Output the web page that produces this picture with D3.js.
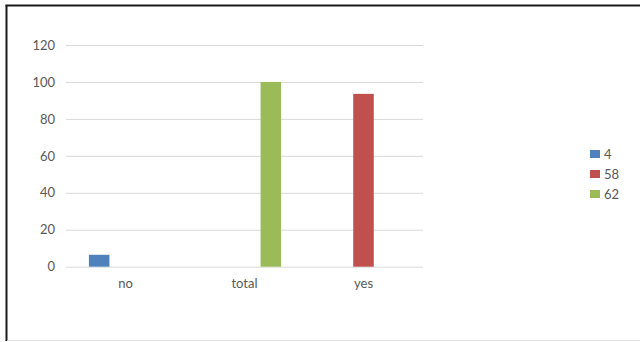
<!DOCTYPE html>
<html>
<head>
<meta charset="utf-8">
<script src="https://cdn.jsdelivr.net/npm/d3@7"></script>
<style>
  html, body { margin: 0; padding: 0; background: #fff; }
  svg { display: block; }
</style>
</head>
<body>
<svg id="chart" width="640" height="342"></svg>
<script>
// Categories along the x axis
const categories = ["no", "total", "yes"];
// Series names (as shown in the legend)
const seriesNames = ["4", "58", "62"];
// Values per series, aligned with categories (null = no bar)
const series4  = [6.45, null, null];
const series58 = [null, null, 93.55];
const series62 = [null, 100, null];
const seriesValues = [series4, series58, series62];
const seriesColors = ["#4f81bd", "#c0504d", "#9bbb59"];
// Y axis ticks
const yTicks = [0, 20, 40, 60, 80, 100, 120];

const svg = d3.select("#chart");
const font = "Lato, 'Open Sans', sans-serif";
const textColor = "#595959";

// Outer frame: dark top and left edges, faint bottom edge
svg.append("line")
  .attr("x1", 5.5).attr("x2", 640).attr("y1", 5.5).attr("y2", 5.5)
  .attr("stroke", "#1a1a1a").attr("stroke-width", 2);
svg.append("line")
  .attr("x1", 6.5).attr("x2", 6.5).attr("y1", 5).attr("y2", 341)
  .attr("stroke", "#1a1a1a").attr("stroke-width", 2);
svg.append("line")
  .attr("x1", 7.5).attr("x2", 640).attr("y1", 340.5).attr("y2", 340.5)
  .attr("stroke", "#e6e6e6").attr("stroke-width", 1);

const plot = { left: 66, right: 423, top: 45, bottom: 266.7 };

const y = d3.scaleLinear().domain([0, 120]).range([plot.bottom, plot.top]);
const x0 = d3.scaleBand().domain(categories).range([plot.left, plot.right]).padding(0);
const x1 = d3.scaleBand().domain(seriesNames).range([-36.6, 36.6]).paddingInner(0.22).paddingOuter(0);

// Gridlines and y tick labels
const yAxis = d3.axisLeft(y).tickValues(yTicks)
  .tickSize(-(plot.right - plot.left)).tickPadding(11);
const gy = svg.append("g").attr("transform", `translate(${plot.left},0)`).call(yAxis);
gy.select(".domain").remove();
gy.selectAll(".tick line").attr("stroke", "#d9d9d9").attr("stroke-width", 1);
gy.selectAll(".tick text")
  .attr("fill", textColor).style("font-family", font).style("font-size", "13px");

// X axis labels
const xAxis = d3.axisBottom(x0).tickSize(0).tickPadding(12);
const gx = svg.append("g").attr("transform", `translate(0,${plot.bottom})`).call(xAxis);
gx.select(".domain").remove();
gx.selectAll(".tick text")
  .attr("fill", textColor).style("font-family", font).style("font-size", "13px");

// Bars
const barData = [];
seriesNames.forEach((s, si) => {
  categories.forEach((c, ci) => {
    const v = seriesValues[si][ci];
    if (v != null) barData.push({ series: s, cat: c, value: v, color: seriesColors[si] });
  });
});
svg.append("g").selectAll("rect").data(barData).join("rect")
  .attr("x", d => x0(d.cat) + x0.bandwidth() / 2 + x1(d.series))
  .attr("width", x1.bandwidth())
  .attr("y", d => y(d.value))
  .attr("height", d => y(0) - y(d.value))
  .attr("fill", d => d.color);

// Legend
const legend = svg.append("g").attr("transform", "translate(590,154)");
const items = legend.selectAll("g").data(seriesNames).join("g")
  .attr("transform", (d, i) => `translate(0,${i * 20})`);
items.append("rect")
  .attr("x", 0).attr("y", -4).attr("width", 10).attr("height", 8)
  .attr("fill", (d, i) => seriesColors[i]);
items.append("text")
  .attr("x", 14).attr("y", 0).attr("dy", "0.35em")
  .attr("fill", textColor).style("font-family", font).style("font-size", "13px")
  .text(d => d);
</script>
</body>
</html>
